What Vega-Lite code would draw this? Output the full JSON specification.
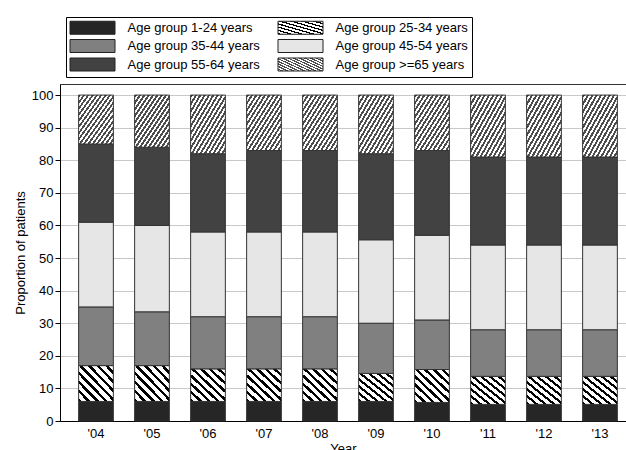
{
  "$schema": "https://vega.github.io/schema/vega-lite/v6.json",
  "width": 566,
  "height": 337,
  "autosize": {"type": "none"},
  "padding": {"left": 60, "top": 84, "right": 0, "bottom": 29},
  "background": "white",
  "config": {"view": {"stroke": "#333", "strokeWidth": 1}, "font": "Liberation Sans"},
  "data": {"values": [
    {"year": "'04", "group": "Age group 1-24 years", "value": 6},
    {"year": "'04", "group": "Age group 25-34 years", "value": 11},
    {"year": "'04", "group": "Age group 35-44 years", "value": 18},
    {"year": "'04", "group": "Age group 45-54 years", "value": 26},
    {"year": "'04", "group": "Age group 55-64 years", "value": 24},
    {"year": "'04", "group": "Age group >=65 years", "value": 15},
    {"year": "'05", "group": "Age group 1-24 years", "value": 6},
    {"year": "'05", "group": "Age group 25-34 years", "value": 11},
    {"year": "'05", "group": "Age group 35-44 years", "value": 16.5},
    {"year": "'05", "group": "Age group 45-54 years", "value": 26.5},
    {"year": "'05", "group": "Age group 55-64 years", "value": 24},
    {"year": "'05", "group": "Age group >=65 years", "value": 16},
    {"year": "'06", "group": "Age group 1-24 years", "value": 6},
    {"year": "'06", "group": "Age group 25-34 years", "value": 10},
    {"year": "'06", "group": "Age group 35-44 years", "value": 16},
    {"year": "'06", "group": "Age group 45-54 years", "value": 26},
    {"year": "'06", "group": "Age group 55-64 years", "value": 24},
    {"year": "'06", "group": "Age group >=65 years", "value": 18},
    {"year": "'07", "group": "Age group 1-24 years", "value": 6},
    {"year": "'07", "group": "Age group 25-34 years", "value": 10},
    {"year": "'07", "group": "Age group 35-44 years", "value": 16},
    {"year": "'07", "group": "Age group 45-54 years", "value": 26},
    {"year": "'07", "group": "Age group 55-64 years", "value": 25},
    {"year": "'07", "group": "Age group >=65 years", "value": 17},
    {"year": "'08", "group": "Age group 1-24 years", "value": 6},
    {"year": "'08", "group": "Age group 25-34 years", "value": 10},
    {"year": "'08", "group": "Age group 35-44 years", "value": 16},
    {"year": "'08", "group": "Age group 45-54 years", "value": 26},
    {"year": "'08", "group": "Age group 55-64 years", "value": 25},
    {"year": "'08", "group": "Age group >=65 years", "value": 17},
    {"year": "'09", "group": "Age group 1-24 years", "value": 6},
    {"year": "'09", "group": "Age group 25-34 years", "value": 8.6},
    {"year": "'09", "group": "Age group 35-44 years", "value": 15.4},
    {"year": "'09", "group": "Age group 45-54 years", "value": 25.6},
    {"year": "'09", "group": "Age group 55-64 years", "value": 26.4},
    {"year": "'09", "group": "Age group >=65 years", "value": 18},
    {"year": "'10", "group": "Age group 1-24 years", "value": 5.7},
    {"year": "'10", "group": "Age group 25-34 years", "value": 10.1},
    {"year": "'10", "group": "Age group 35-44 years", "value": 15.2},
    {"year": "'10", "group": "Age group 45-54 years", "value": 26},
    {"year": "'10", "group": "Age group 55-64 years", "value": 26},
    {"year": "'10", "group": "Age group >=65 years", "value": 17},
    {"year": "'11", "group": "Age group 1-24 years", "value": 5.1},
    {"year": "'11", "group": "Age group 25-34 years", "value": 8.6},
    {"year": "'11", "group": "Age group 35-44 years", "value": 14.3},
    {"year": "'11", "group": "Age group 45-54 years", "value": 26},
    {"year": "'11", "group": "Age group 55-64 years", "value": 27},
    {"year": "'11", "group": "Age group >=65 years", "value": 19},
    {"year": "'12", "group": "Age group 1-24 years", "value": 5.1},
    {"year": "'12", "group": "Age group 25-34 years", "value": 8.6},
    {"year": "'12", "group": "Age group 35-44 years", "value": 14.3},
    {"year": "'12", "group": "Age group 45-54 years", "value": 26},
    {"year": "'12", "group": "Age group 55-64 years", "value": 27},
    {"year": "'12", "group": "Age group >=65 years", "value": 19},
    {"year": "'13", "group": "Age group 1-24 years", "value": 5.1},
    {"year": "'13", "group": "Age group 25-34 years", "value": 8.6},
    {"year": "'13", "group": "Age group 35-44 years", "value": 14.3},
    {"year": "'13", "group": "Age group 45-54 years", "value": 26},
    {"year": "'13", "group": "Age group 55-64 years", "value": 27},
    {"year": "'13", "group": "Age group >=65 years", "value": 19}
  ]},
  "transform": [
    {"stack": "value", "groupby": ["year"], "sort": [{"field": "group", "order": "ascending"}], "as": ["v0", "v1"]}
  ],
  "mark": {"type": "bar", "stroke": "#333", "strokeWidth": 1, "opacity": 1},
  "encoding": {
    "x": {
      "field": "year", "type": "nominal",
      "scale": {"paddingInner": 0.38, "paddingOuter": 0.2435, "align": 0.683},
      "axis": {"title": "Year", "labelAngle": 0, "ticks": false, "labelPadding": 6, "labelFontSize": 13, "labelColor": "#000", "titleFontSize": 13, "titleFontWeight": "normal", "titleColor": "#000", "titlePadding": 2, "domainColor": "#000", "grid": false}
    },
    "y": {
      "field": "v0", "type": "quantitative",
      "scale": {"domain": [0, 103.4], "nice": false},
      "axis": {"title": "Proportion of patients", "values": [0, 10, 20, 30, 40, 50, 60, 70, 80, 90, 100], "grid": true, "gridColor": "#c8c8c8", "tickSize": 5, "tickColor": "#000", "domainColor": "#000", "labelFontSize": 13, "labelColor": "#000", "labelPadding": 2, "titleFontSize": 13, "titleFontWeight": "normal", "titleColor": "#000"}
    },
    "y2": {"field": "v1"},
    "color": {
      "field": "group", "type": "nominal",
      "scale": {
        "domain": ["Age group 1-24 years", "Age group 25-34 years", "Age group 35-44 years", "Age group 45-54 years", "Age group 55-64 years", "Age group >=65 years"],
        "range": [
          "#262626",
          {"expr": "{gradient: 'linear', x1: 0, y1: 1, x2: 1, y2: 0, stops: [{offset:0,color:'#000'},{offset:0.05,color:'#000'},{offset:0.05,color:'#fff'},{offset:0.125,color:'#fff'},{offset:0.125,color:'#000'},{offset:0.175,color:'#000'},{offset:0.175,color:'#fff'},{offset:0.25,color:'#fff'},{offset:0.25,color:'#000'},{offset:0.3,color:'#000'},{offset:0.3,color:'#fff'},{offset:0.375,color:'#fff'},{offset:0.375,color:'#000'},{offset:0.425,color:'#000'},{offset:0.425,color:'#fff'},{offset:0.5,color:'#fff'},{offset:0.5,color:'#000'},{offset:0.55,color:'#000'},{offset:0.55,color:'#fff'},{offset:0.625,color:'#fff'},{offset:0.625,color:'#000'},{offset:0.675,color:'#000'},{offset:0.675,color:'#fff'},{offset:0.75,color:'#fff'},{offset:0.75,color:'#000'},{offset:0.8,color:'#000'},{offset:0.8,color:'#fff'},{offset:0.875,color:'#fff'},{offset:0.875,color:'#000'},{offset:0.925,color:'#000'},{offset:0.925,color:'#fff'},{offset:1,color:'#fff'}]}"},
          "#808080",
          "#e6e6e6",
          "#424242",
          {"expr": "{gradient: 'linear', x1: 0, y1: 0, x2: 1, y2: 1, stops: [{offset:0,color:'#4d4d4d'},{offset:0.03125,color:'#4d4d4d'},{offset:0.03125,color:'#fff'},{offset:0.0625,color:'#fff'},{offset:0.0625,color:'#4d4d4d'},{offset:0.09375,color:'#4d4d4d'},{offset:0.09375,color:'#fff'},{offset:0.125,color:'#fff'},{offset:0.125,color:'#4d4d4d'},{offset:0.15625,color:'#4d4d4d'},{offset:0.15625,color:'#fff'},{offset:0.1875,color:'#fff'},{offset:0.1875,color:'#4d4d4d'},{offset:0.21875,color:'#4d4d4d'},{offset:0.21875,color:'#fff'},{offset:0.25,color:'#fff'},{offset:0.25,color:'#4d4d4d'},{offset:0.28125,color:'#4d4d4d'},{offset:0.28125,color:'#fff'},{offset:0.3125,color:'#fff'},{offset:0.3125,color:'#4d4d4d'},{offset:0.34375,color:'#4d4d4d'},{offset:0.34375,color:'#fff'},{offset:0.375,color:'#fff'},{offset:0.375,color:'#4d4d4d'},{offset:0.40625,color:'#4d4d4d'},{offset:0.40625,color:'#fff'},{offset:0.4375,color:'#fff'},{offset:0.4375,color:'#4d4d4d'},{offset:0.46875,color:'#4d4d4d'},{offset:0.46875,color:'#fff'},{offset:0.5,color:'#fff'},{offset:0.5,color:'#4d4d4d'},{offset:0.53125,color:'#4d4d4d'},{offset:0.53125,color:'#fff'},{offset:0.5625,color:'#fff'},{offset:0.5625,color:'#4d4d4d'},{offset:0.59375,color:'#4d4d4d'},{offset:0.59375,color:'#fff'},{offset:0.625,color:'#fff'},{offset:0.625,color:'#4d4d4d'},{offset:0.65625,color:'#4d4d4d'},{offset:0.65625,color:'#fff'},{offset:0.6875,color:'#fff'},{offset:0.6875,color:'#4d4d4d'},{offset:0.71875,color:'#4d4d4d'},{offset:0.71875,color:'#fff'},{offset:0.75,color:'#fff'},{offset:0.75,color:'#4d4d4d'},{offset:0.78125,color:'#4d4d4d'},{offset:0.78125,color:'#fff'},{offset:0.8125,color:'#fff'},{offset:0.8125,color:'#4d4d4d'},{offset:0.84375,color:'#4d4d4d'},{offset:0.84375,color:'#fff'},{offset:0.875,color:'#fff'},{offset:0.875,color:'#4d4d4d'},{offset:0.90625,color:'#4d4d4d'},{offset:0.90625,color:'#fff'},{offset:0.9375,color:'#fff'},{offset:0.9375,color:'#4d4d4d'},{offset:0.96875,color:'#4d4d4d'},{offset:0.96875,color:'#fff'},{offset:1,color:'#fff'}]}"}
        ]
      },
      "legend": {
        "title": null, "orient": "none", "legendX": 6, "legendY": -67,
        "direction": "horizontal", "columns": 2, "columnPadding": 15, "rowPadding": 0.5, "padding": 3.5,
        "strokeColor": "#000", "fillColor": "#fff",
        "symbolType": "M-1,-1H5.923V1H-1Z", "symbolSize": 169,
        "symbolStrokeColor": "#222", "symbolStrokeWidth": 1, "symbolOpacity": 1,
        "labelFontSize": 13, "labelOffset": 44, "labelColor": "#000", "labelLimit": 300
      }
    }
  }
}
